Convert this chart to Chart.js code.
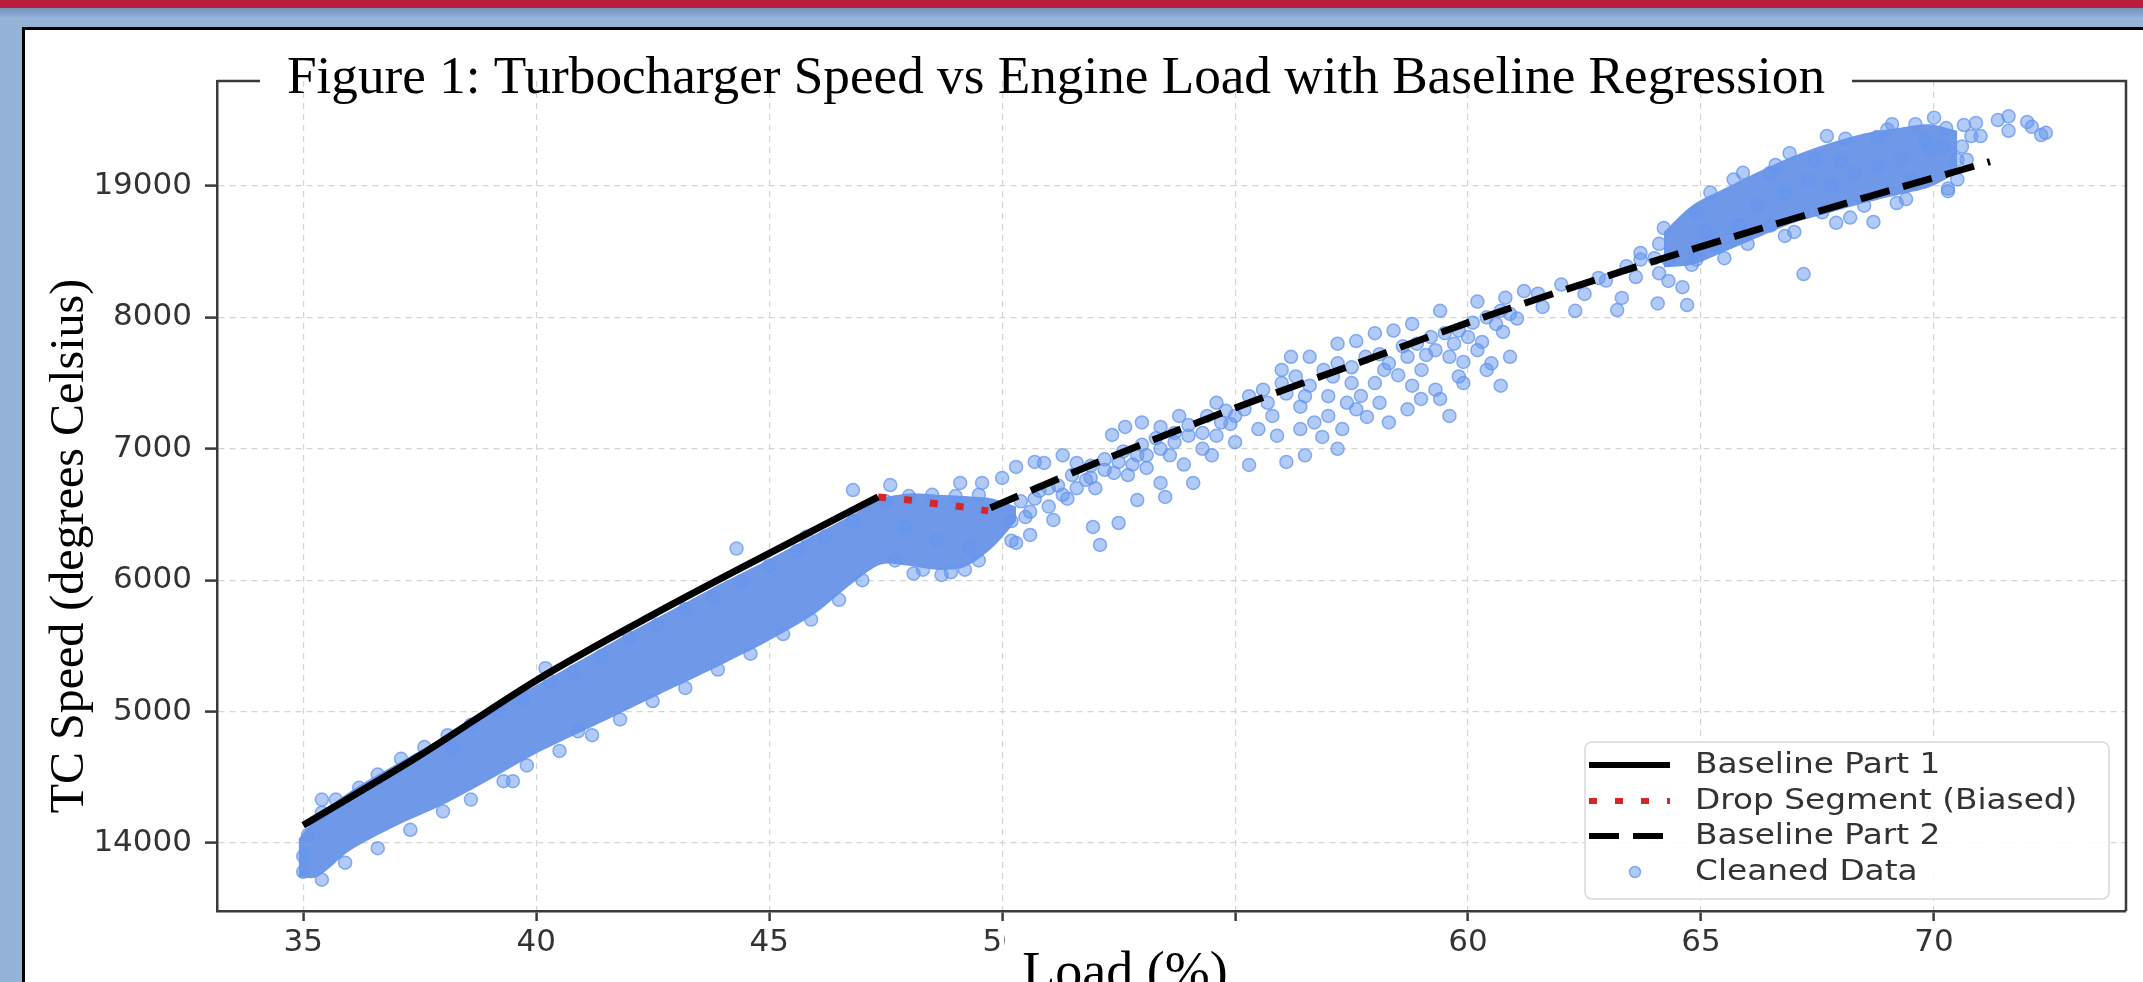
<!DOCTYPE html>
<html lang="en">
<head>
<meta charset="UTF-8">
<title>Turbocharger Speed vs Engine Load</title>
<script src="https://cdn.jsdelivr.net/npm/chart.js"></script>
<style>
  html, body { margin: 0; padding: 0; }
  body { width: 2143px; height: 982px; overflow: hidden; position: relative; background: #95b3d7; }
  .redbar { position: absolute; left: 0; top: 0; width: 100%; height: 8px; background: #b71c3b; }
  .shade { position: absolute; left: 0; top: 8px; width: 100%; height: 10px; background: linear-gradient(#7393bd, #95b3d7); }
  .panel { position: absolute; left: 22px; top: 27px; right: 0; bottom: 0; background: #fff;
           border-left: 3px solid #000; border-top: 3px solid #000; }
  #chart { position: absolute; left: 25px; top: 30px; }
</style>
</head>
<body>
<div class="redbar"></div>
<div class="shade"></div>
<div class="panel"></div>
<canvas id="chart" width="2118" height="952"></canvas>

<script>
// axis ticks (the y labels are printed as they appear on the figure)
const xTickValues = [35, 40, 45, 50, 55, 60, 65, 70];
const xTickLabels = ['35', '40', '45', '50', '55', '60', '65', '70'];
const yTickValues = [4000, 5000, 6000, 7000, 8000, 9000];
const yTickLabels = ['14000', '5000', '6000', '7000', '8000', '19000'];

// regression pieces
const part1Load = [35, 37.5, 40, 42.5, 45, 47.34];
const part1Speed = [4135, 4665, 5237, 5736, 6204, 6633];
const dropLoad = [47.34, 48, 48.5, 49.1, 49.7];
const dropSpeed = [6633, 6610, 6585, 6560, 6527];
const part2Load = [49.75, 52, 55, 58, 60, 63.3, 66.5, 68.8, 71.2];
const part2Speed = [6550, 6890, 7310, 7700, 7960, 8350, 8700, 8940, 9185];

// solid core of the cleaned data (35-50 % load)
const coreLoad = [34.9, 35.3, 36, 37, 38, 39, 40, 41, 42, 43, 44, 45, 46, 46.8, 47.4, 48, 48.6, 49.2, 49.8, 50.3];
const coreHigh = [4030, 4200, 4390, 4600, 4800, 5010, 5200, 5400, 5600, 5790, 5980, 6160, 6350, 6500, 6620, 6660, 6650, 6640, 6620, 6560];
const coreLow  = [3740, 3740, 3940, 4130, 4290, 4480, 4680, 4850, 5020, 5190, 5360, 5540, 5750, 5980, 6120, 6110, 6080, 6100, 6250, 6450];

// solid core of the high-load cluster
const topLoad = [64.2, 64.8, 65.5, 66.3, 67, 67.8, 68.5, 69.2, 69.9, 70.5];
const topHigh = [8650, 8850, 8980, 9120, 9230, 9330, 9400, 9440, 9470, 9420];
const topLow  = [8380, 8400, 8500, 8620, 8720, 8800, 8870, 8930, 8990, 9100];

// scattered points, by load range
const aLoad  = [35.0, 35.1, 35.4, 35.7, 36.2, 36.6, 37.1, 37.6, 38.1, 38.6, 39.2, 39.7, 40.3, 40.8, 41.4, 42.0, 42.6, 43.2, 43.8, 44.4, 45.0, 45.6, 46.2, 46.8,
                35.0, 35.4, 35.9, 36.6, 37.3, 38.0, 38.6, 39.3, 39.8, 40.5, 41.2, 41.8, 42.5, 43.2, 43.9, 44.6, 45.3, 45.9, 46.5, 47.0,
                35.4, 39.5, 40.9, 40.2, 44.3, 45.8, 38.2];
const aSpeed = [3900, 4060, 4230, 4330, 4420, 4520, 4640, 4730, 4820, 4900, 5000, 5100, 5230, 5300, 5420, 5560, 5660, 5780, 5870, 5990, 6110, 6220, 6330, 6450,
                3780, 3720, 3850, 3960, 4100, 4240, 4330, 4470, 4590, 4700, 4820, 4940, 5080, 5180, 5320, 5440, 5590, 5700, 5850, 6000,
                4330, 4470, 4850, 5330, 6240, 6330, 4720];
const bLoad  = [46.8, 47.6, 49.1, 49.57, 50.0, 47.5, 48.0, 48.5, 49.0, 49.5, 47.7, 48.3, 48.9, 49.5, 50.2, 47.9, 48.6, 49.3, 48.1, 48.7, 49.2];
const bSpeed = [6686, 6724, 6740, 6740, 6778, 6600, 6640, 6650, 6640, 6650, 6150, 6080, 6060, 6150, 6300, 6400, 6300, 6250, 6050, 6040, 6080];
const cLoad  = [50.3, 50.9, 51.6, 52.36, 52.64, 53.4, 50.3, 50.6, 51.1, 51.95, 52.1, 52.9, 53.4, 54.1, 52.5, 52.4, 51.8, 53.5, 53.1,
                50.4, 50.8, 51.2, 51.5, 51.9, 52.2, 52.6, 53.0, 53.3, 53.7, 54.0, 54.4, 54.8, 50.6, 51.0, 51.4, 52.0, 52.7, 53.6, 54.3, 54.6, 52.9, 53.9, 54.5, 55.0,
                50.2, 50.5, 50.7, 51.0, 51.3, 51.6, 51.9, 52.2, 52.5, 52.8, 53.1, 53.4, 53.7, 54.0, 54.3, 54.7, 55.0, 53.0, 53.8, 54.6, 51.3, 50.7];
const cSpeed = [6862, 6892, 6892, 7105, 7166, 7166, 6283, 6344, 6458, 6405, 6268, 6610, 6740, 6740, 6435, 6816, 6763, 6633, 6854,
                6600, 6680, 6720, 6800, 6870, 6920, 6980, 7030, 7080, 7120, 7180, 7250, 7290, 6520, 6560, 6620, 6700, 6800, 6950, 7000, 7100, 6950, 6880, 6950, 7050,
                6450, 6480, 6620, 6700, 6650, 6700, 6780, 6840, 6900, 6880, 6950, 7000, 7050, 7100, 7120, 7200, 7250, 7200, 7250, 7350, 6950, 6900];
const dLoad  = [54.9, 55.3, 56.1, 56.87, 57.7, 57.83, 58.99, 59.1, 59.4, 59.9, 60.3, 60.75, 60.9,
                55.3, 55.6, 56.0, 56.3, 56.6, 56.9, 57.2, 57.5, 57.8, 58.1, 58.3, 58.6, 58.9, 59.2, 59.5, 59.8, 60.1, 60.4, 60.7,
                55.8, 56.4, 57.0, 57.4, 58.0, 58.5, 59.0, 59.6, 60.2, 56.2, 57.6, 58.4, 55.5, 56.7, 57.2, 58.8, 59.8, 60.5,
                55.2, 55.7, 56.1, 56.5, 57.1, 57.5, 58.2, 58.7, 59.3, 59.7, 60.0, 60.6,
                55.9, 56.4, 57.0, 57.6, 58.1, 58.7, 59.3, 59.9, 60.4, 60.9, 56.5, 57.3, 58.3, 59.6, 60.7,
                56.0, 56.6, 57.2, 58.0, 58.8, 59.4, 60.2, 60.8];
const dSpeed = [7189, 6877, 6900, 7090, 7402, 7242, 7379, 7714, 7379, 7661, 7813, 7889, 8026,
                7400, 7450, 7500, 7550, 7480, 7600, 7650, 7620, 7700, 7720, 7650, 7780, 7800, 7850, 7880, 7900, 7960, 8000, 8050,
                7250, 7320, 7400, 7350, 7500, 7560, 7600, 7700, 7750, 7700, 7820, 7900, 7150, 7200, 7000, 7480, 7550, 7650,
                7300, 7350, 7420, 7400, 7550, 7500, 7600, 7700, 7750, 7800, 7850, 7950,
                7100, 7150, 7250, 7300, 7350, 7300, 7450, 7500, 7600, 7700, 6950, 7150, 7200, 7250, 7480,
                7600, 7700, 7800, 7880, 7950, 8050, 8120, 8150];
const eLoad  = [61.6, 62.5, 63.3, 61.2, 62.0, 62.8, 63.6, 63.2, 64.3, 61.5, 62.3, 64.6, 61.05, 62.96, 63.7, 64.1, 64.9, 64.07];
const eSpeed = [8079, 8178, 8148, 8200, 8250, 8300, 8307, 8056, 8277, 8180, 8050, 8230, 7991, 8280, 8490, 8335, 8440, 8106];
const fLoad  = [64.3, 64.7, 66.48, 67.45, 68.0, 68.78, 70.26, 70.64, 71.37, 72.0, 72.3, 67.2, 68.7, 65.1, 69.9,
                64.9, 65.3, 65.8, 66.2, 66.8, 67.3, 67.8, 68.3, 68.8, 69.3, 69.8, 70.2, 70.5, 71.0, 71.6, 72.1, 69.5, 70.5, 68.5, 67.6, 66.5, 65.5, 64.8, 63.7, 63.4,
                65.9, 66.6, 67.7, 69.1, 70.0, 70.9, 71.6, 72.4, 66.0, 67.0, 68.2, 69.4, 70.3,
                64.1, 64.0, 64.2, 70.6, 70.7, 70.8, 66.9, 68.1, 69.0, 69.6, 65.2, 65.7, 66.8, 67.9, 69.2, 70.3];
const fSpeed = [8437, 8094, 9099, 9198, 9190, 9373, 9441, 9464, 9502, 9487, 9388, 8330, 8726, 8650, 9282,
                8800, 8550, 8700, 8850, 8950, 9050, 9000, 9100, 9150, 9200, 9350, 9300, 9200, 9380, 9420, 9450, 9050, 9050, 8850, 8800, 8700, 8450, 8400, 8440, 8390,
                9100, 9160, 9380, 9470, 9520, 9480, 9530, 9405, 8560, 8650, 8760, 8900, 8960,
                8560, 8450, 8680, 9300, 9200, 9380, 9250, 9360, 9430, 9470, 8950, 9050, 8620, 8720, 8870, 8980];

const pts = (xs, ys) => xs.map((x, i) => ({x: x, y: ys[i]}));
const cleanedLoad = [].concat(aLoad, bLoad, cLoad, dLoad, eLoad, fLoad);
const cleanedSpeed = [].concat(aSpeed, bSpeed, cSpeed, dSpeed, eSpeed, fSpeed);

const dotFill = 'rgba(100, 149, 237, 0.5)';
const dotEdge = 'rgba(100, 149, 237, 0.75)';
const coreColor = '#7098e8';

// titles, frame and legend drawn over the plot
const decor = {
    id: 'decor',
    afterDraw(chart) {
        const ctx = chart.ctx;
        const a = chart.chartArea;
        ctx.save();

        // frame, broken where the title sits
        ctx.strokeStyle = '#3a3a3a';
        ctx.lineWidth = 2.5;
        ctx.beginPath();
        ctx.moveTo(a.left, a.top);
        ctx.lineTo(235, a.top);
        ctx.moveTo(1827, a.top);
        ctx.lineTo(a.right, a.top);
        ctx.lineTo(a.right, a.bottom);
        ctx.stroke();

        // main title
        ctx.fillStyle = '#000';
        ctx.font = '53px "Liberation Serif", "Times New Roman", serif';
        ctx.textBaseline = 'alphabetic';
        ctx.textAlign = 'left';
        const title = 'Figure 1: Turbocharger Speed vs Engine Load with Baseline Regression';
        let w = ctx.measureText(title).width;
        ctx.save();
        ctx.translate(262, 63);
        ctx.scale(1538 / w, 1);
        ctx.fillText(title, 0, 0);
        ctx.restore();

        // y axis title
        ctx.save();
        ctx.font = '48px "Liberation Serif", "Times New Roman", serif';
        ctx.translate(58, 516);
        ctx.rotate(-Math.PI / 2);
        ctx.textAlign = 'center';
        ctx.fillText('TC Speed (degrees Celsius)', 0, 0);
        ctx.restore();

        // x axis title in its own white box
        ctx.fillStyle = '#fff';
        ctx.fillRect(980, 895, 320, 60);
        ctx.fillStyle = '#000';
        ctx.font = '54px "Liberation Serif", "Times New Roman", serif';
        ctx.textAlign = 'center';
        ctx.fillText('Load (%)', 1100, 959);

        // legend
        const lx = 1560, ly = 712, lw = 524, lh = 157;
        ctx.beginPath();
        ctx.roundRect(lx, ly, lw, lh, 7);
        ctx.fillStyle = 'rgba(255,255,255,0.85)';
        ctx.fill();
        ctx.strokeStyle = '#d8d8d8';
        ctx.lineWidth = 1.5;
        ctx.stroke();

        const rows = [735, 771, 806, 842];
        ctx.font = '29px "DejaVu Sans", sans-serif';
        ctx.textAlign = 'left';
        ctx.textBaseline = 'middle';
        chart.data.datasets.slice(0, 4).forEach((ds, i) => {
            const y = rows[i];
            if (ds.type === 'scatter') {
                ctx.beginPath();
                ctx.arc(1610, y, 5.5, 0, Math.PI * 2);
                ctx.fillStyle = ds.backgroundColor;
                ctx.fill();
                ctx.strokeStyle = ds.borderColor;
                ctx.lineWidth = 1.5;
                ctx.stroke();
            } else {
                ctx.save();
                ctx.strokeStyle = ds.borderColor;
                ctx.lineWidth = ds.borderWidth - 1;
                ctx.setLineDash(ds.borderDash || []);
                ctx.beginPath();
                ctx.moveTo(1564, y);
                ctx.lineTo(1645, y);
                ctx.stroke();
                ctx.restore();
            }
            ctx.save();
            ctx.fillStyle = '#333';
            ctx.translate(1670, y);
            ctx.scale(1.13, 1);
            ctx.fillText(ds.label, 0, 0);
            ctx.restore();
        });
        ctx.restore();
    }
};

const lineStyle = { type: 'line', pointRadius: 0, borderWidth: 7, fill: false, cubicInterpolationMode: 'monotone', order: 0 };

new Chart(document.getElementById('chart'), {
    type: 'scatter',
    data: {
        datasets: [
            Object.assign({}, lineStyle, { label: 'Baseline Part 1', data: pts(part1Load, part1Speed), borderColor: '#000' }),
            Object.assign({}, lineStyle, { label: 'Drop Segment (Biased)', data: pts(dropLoad, dropSpeed), borderColor: '#d62728', borderDash: [8, 18] }),
            Object.assign({}, lineStyle, { label: 'Baseline Part 2', data: pts(part2Load, part2Speed), borderColor: '#000', borderDash: [30, 14] }),
            { type: 'scatter', label: 'Cleaned Data', data: pts(cleanedLoad, cleanedSpeed), pointRadius: 6.5,
              backgroundColor: dotFill, borderColor: dotEdge, borderWidth: 1.5, order: 1 },
            { type: 'line', label: 'core high', data: pts(coreLoad, coreHigh), pointRadius: 0, borderWidth: 0,
              backgroundColor: coreColor, fill: '+1', tension: 0.3, order: 2 },
            { type: 'line', label: 'core low', data: pts(coreLoad, coreLow), pointRadius: 0, borderWidth: 0,
              backgroundColor: coreColor, fill: false, tension: 0.3, order: 2 },
            { type: 'line', label: 'top high', data: pts(topLoad, topHigh), pointRadius: 0, borderWidth: 0,
              backgroundColor: coreColor, fill: '+1', tension: 0.3, order: 2 },
            { type: 'line', label: 'top low', data: pts(topLoad, topLow), pointRadius: 0, borderWidth: 0,
              backgroundColor: coreColor, fill: false, tension: 0.3, order: 2 }
        ]
    },
    options: {
        responsive: false,
        animation: false,
        devicePixelRatio: 1,
        layout: { padding: { left: 0, top: 51, right: 17, bottom: 0 } },
        plugins: { legend: { display: false }, title: { display: false }, tooltip: { enabled: false } },
        scales: {
            x: {
                type: 'linear', min: 33.15, max: 74.12,
                afterFit: s => { s.height = 71; },
                afterBuildTicks: s => { s.ticks = xTickValues.map(v => ({ value: v })); },
                ticks: { callback: v => xTickLabels[xTickValues.indexOf(v)], color: '#333', padding: 3,
                         font: { family: 'DejaVu Sans', size: 31 } },
                grid: { color: '#d4d4d4', lineWidth: 1.2, tickLength: 10, tickColor: '#3a3a3a', tickWidth: 2.5 },
                border: { color: '#3a3a3a', width: 2.5, dash: [6, 5] }
            },
            y: {
                type: 'linear', min: 3482, max: 9799,
                afterFit: s => { s.width = 192; },
                afterBuildTicks: s => { s.ticks = yTickValues.map(v => ({ value: v })); },
                ticks: { callback: v => yTickLabels[yTickValues.indexOf(v)], color: '#333', padding: 13,
                         font: { family: 'DejaVu Sans', size: 31 } },
                grid: { color: '#d4d4d4', lineWidth: 1.2, tickLength: 12, tickColor: '#3a3a3a', tickWidth: 2.5 },
                border: { color: '#3a3a3a', width: 2.5, dash: [6, 5] }
            }
        }
    },
    plugins: [decor]
});
</script>
</body>
</html>
